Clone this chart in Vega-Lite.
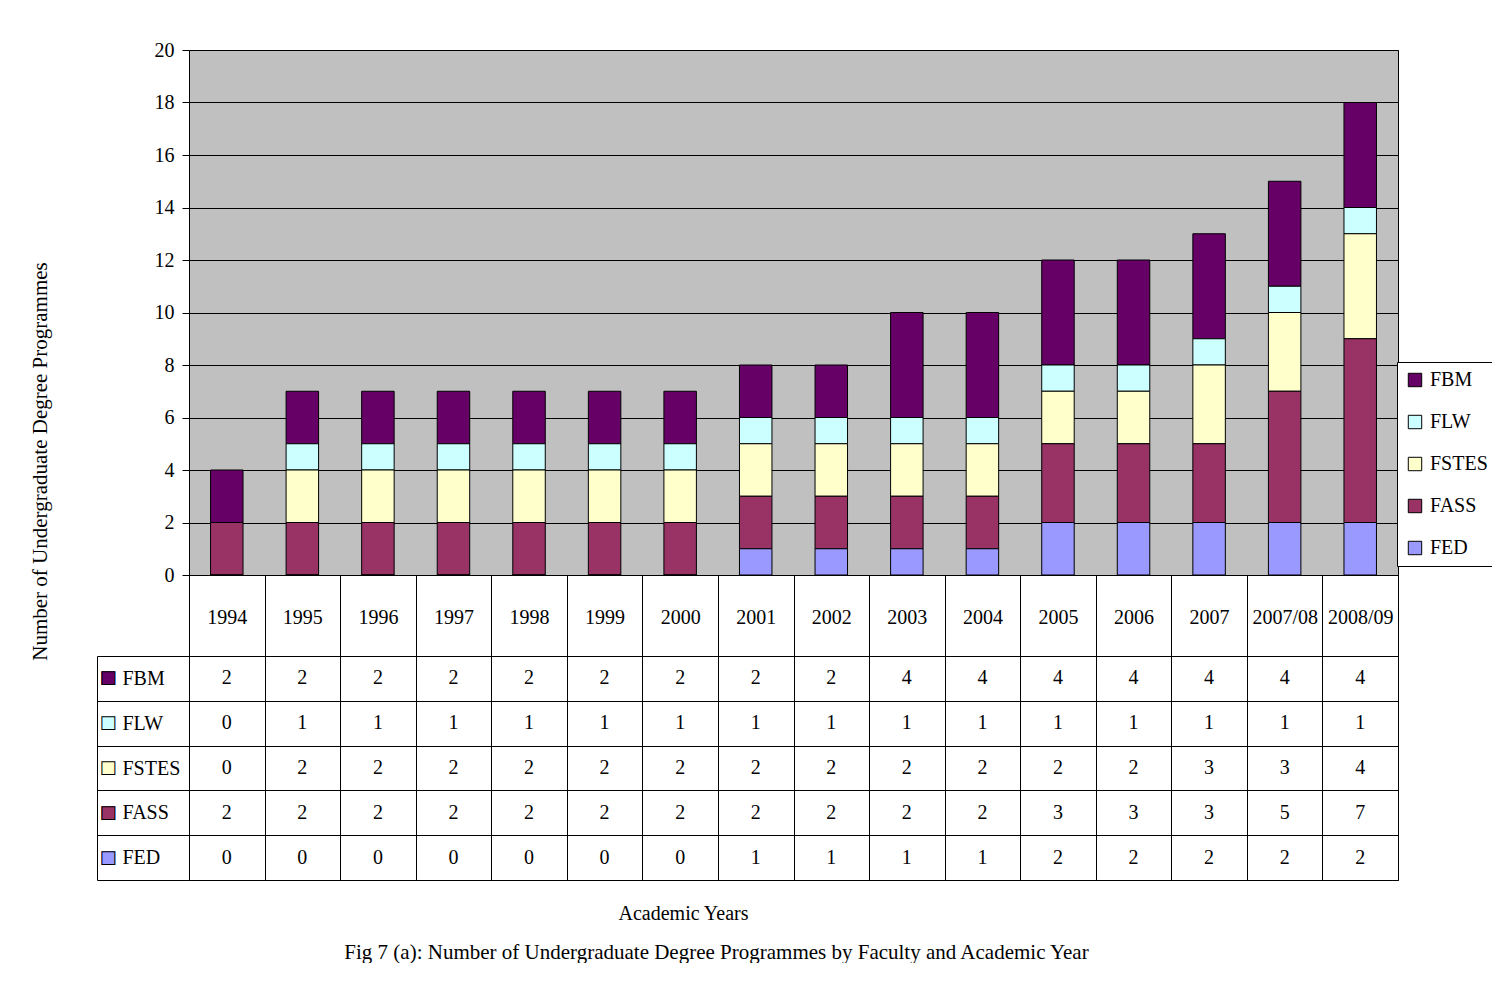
{
  "$schema": "https://vega.github.io/schema/vega-lite/v6.json",
  "padding": {"left": 28, "top": 39, "right": 0, "bottom": 0},
  "background": "white",
  "config": {
    "font": "Liberation Serif",
    "axis": {"labelFont": "Liberation Serif", "titleFont": "Liberation Serif", "labelColor": "black", "titleColor": "black", "labelFontSize": 20, "titleFontSize": 20, "titleFontWeight": "normal"},
    "title": {"font": "Liberation Serif", "fontWeight": "normal", "color": "black"}
  },
  "data": {"values": [
    {"year": "1994", "faculty": "FBM", "n": 2}, {"year": "1994", "faculty": "FLW", "n": 0}, {"year": "1994", "faculty": "FSTES", "n": 0}, {"year": "1994", "faculty": "FASS", "n": 2}, {"year": "1994", "faculty": "FED", "n": 0},
    {"year": "1995", "faculty": "FBM", "n": 2}, {"year": "1995", "faculty": "FLW", "n": 1}, {"year": "1995", "faculty": "FSTES", "n": 2}, {"year": "1995", "faculty": "FASS", "n": 2}, {"year": "1995", "faculty": "FED", "n": 0},
    {"year": "1996", "faculty": "FBM", "n": 2}, {"year": "1996", "faculty": "FLW", "n": 1}, {"year": "1996", "faculty": "FSTES", "n": 2}, {"year": "1996", "faculty": "FASS", "n": 2}, {"year": "1996", "faculty": "FED", "n": 0},
    {"year": "1997", "faculty": "FBM", "n": 2}, {"year": "1997", "faculty": "FLW", "n": 1}, {"year": "1997", "faculty": "FSTES", "n": 2}, {"year": "1997", "faculty": "FASS", "n": 2}, {"year": "1997", "faculty": "FED", "n": 0},
    {"year": "1998", "faculty": "FBM", "n": 2}, {"year": "1998", "faculty": "FLW", "n": 1}, {"year": "1998", "faculty": "FSTES", "n": 2}, {"year": "1998", "faculty": "FASS", "n": 2}, {"year": "1998", "faculty": "FED", "n": 0},
    {"year": "1999", "faculty": "FBM", "n": 2}, {"year": "1999", "faculty": "FLW", "n": 1}, {"year": "1999", "faculty": "FSTES", "n": 2}, {"year": "1999", "faculty": "FASS", "n": 2}, {"year": "1999", "faculty": "FED", "n": 0},
    {"year": "2000", "faculty": "FBM", "n": 2}, {"year": "2000", "faculty": "FLW", "n": 1}, {"year": "2000", "faculty": "FSTES", "n": 2}, {"year": "2000", "faculty": "FASS", "n": 2}, {"year": "2000", "faculty": "FED", "n": 0},
    {"year": "2001", "faculty": "FBM", "n": 2}, {"year": "2001", "faculty": "FLW", "n": 1}, {"year": "2001", "faculty": "FSTES", "n": 2}, {"year": "2001", "faculty": "FASS", "n": 2}, {"year": "2001", "faculty": "FED", "n": 1},
    {"year": "2002", "faculty": "FBM", "n": 2}, {"year": "2002", "faculty": "FLW", "n": 1}, {"year": "2002", "faculty": "FSTES", "n": 2}, {"year": "2002", "faculty": "FASS", "n": 2}, {"year": "2002", "faculty": "FED", "n": 1},
    {"year": "2003", "faculty": "FBM", "n": 4}, {"year": "2003", "faculty": "FLW", "n": 1}, {"year": "2003", "faculty": "FSTES", "n": 2}, {"year": "2003", "faculty": "FASS", "n": 2}, {"year": "2003", "faculty": "FED", "n": 1},
    {"year": "2004", "faculty": "FBM", "n": 4}, {"year": "2004", "faculty": "FLW", "n": 1}, {"year": "2004", "faculty": "FSTES", "n": 2}, {"year": "2004", "faculty": "FASS", "n": 2}, {"year": "2004", "faculty": "FED", "n": 1},
    {"year": "2005", "faculty": "FBM", "n": 4}, {"year": "2005", "faculty": "FLW", "n": 1}, {"year": "2005", "faculty": "FSTES", "n": 2}, {"year": "2005", "faculty": "FASS", "n": 3}, {"year": "2005", "faculty": "FED", "n": 2},
    {"year": "2006", "faculty": "FBM", "n": 4}, {"year": "2006", "faculty": "FLW", "n": 1}, {"year": "2006", "faculty": "FSTES", "n": 2}, {"year": "2006", "faculty": "FASS", "n": 3}, {"year": "2006", "faculty": "FED", "n": 2},
    {"year": "2007", "faculty": "FBM", "n": 4}, {"year": "2007", "faculty": "FLW", "n": 1}, {"year": "2007", "faculty": "FSTES", "n": 3}, {"year": "2007", "faculty": "FASS", "n": 3}, {"year": "2007", "faculty": "FED", "n": 2},
    {"year": "2007/08", "faculty": "FBM", "n": 4}, {"year": "2007/08", "faculty": "FLW", "n": 1}, {"year": "2007/08", "faculty": "FSTES", "n": 3}, {"year": "2007/08", "faculty": "FASS", "n": 5}, {"year": "2007/08", "faculty": "FED", "n": 2},
    {"year": "2008/09", "faculty": "FBM", "n": 4}, {"year": "2008/09", "faculty": "FLW", "n": 1}, {"year": "2008/09", "faculty": "FSTES", "n": 4}, {"year": "2008/09", "faculty": "FASS", "n": 7}, {"year": "2008/09", "faculty": "FED", "n": 2}
  ]},
  "spacing": 81,
  "bounds": "flush",
  "title": {"text": "Fig 7 (a): Number of Undergraduate Degree Programmes by Faculty and Academic Year", "orient": "bottom", "anchor": "middle", "fontSize": 21, "offset": 18, "dx": -46},
  "vconcat": [
    {
      "width": 1209,
      "height": 525,
      "view": {"fill": "#C0C0C0", "stroke": "black", "strokeWidth": 1},
      "transform": [
        {"calculate": "indexof(['FED', 'FASS', 'FSTES', 'FLW', 'FBM'], datum.faculty)", "as": "stackRank"}
      ],
      "mark": {"type": "bar", "stroke": "black", "strokeWidth": 1, "width": {"band": 0.43}},
      "encoding": {
        "x": {"field": "year", "type": "nominal", "sort": null,
          "scale": {"paddingInner": 0, "paddingOuter": 0},
          "axis": {"title": null, "labelAngle": 0, "tickBand": "extent", "tickSize": 81, "tickColor": "black", "domainColor": "black", "labelBaseline": "middle", "labelAlign": "center", "labelPadding": -39}},
        "y": {"field": "n", "type": "quantitative", "stack": "zero",
          "scale": {"domain": [0, 20]},
          "axis": {"values": [0, 2, 4, 6, 8, 10, 12, 14, 16, 18, 20], "title": "Number of Undergraduate Degree Programmes", "titleFontSize": 21, "titlePadding": 104, "titleY": 411, "grid": true, "gridColor": "black", "gridOpacity": 1, "tickColor": "black", "domainColor": "black", "tickSize": 7, "labelPadding": 8}},
        "order": {"field": "stackRank", "type": "quantitative", "sort": "ascending"},
        "color": {"field": "faculty", "type": "nominal",
          "scale": {"domain": ["FBM", "FLW", "FSTES", "FASS", "FED"], "range": ["#660066", "#CCFFFF", "#FFFFCC", "#993366", "#9999FF"]},
          "legend": {"orient": "none", "legendX": 1208, "legendY": 312, "title": null, "symbolType": "square", "symbolSize": 180, "symbolStrokeColor": "black", "symbolStrokeWidth": 1, "symbolOpacity": 1, "labelFontSize": 20, "labelFont": "Liberation Serif", "labelColor": "black", "strokeColor": "black", "fillColor": "white", "padding": 8, "rowPadding": 22, "labelOffset": 5}}
      }
    },
    {
      "width": 1209,
      "height": 224,
      "view": {"fill": "white", "stroke": "black", "strokeWidth": 1},
      "layer": [
        {
          "mark": {"type": "text", "fontSize": 20, "font": "Liberation Serif", "color": "black"},
          "encoding": {
            "x": {"field": "year", "type": "nominal", "sort": null,
              "axis": {"orient": "bottom", "labels": false, "ticks": false, "domain": false, "grid": true, "gridColor": "black", "gridOpacity": 1, "tickBand": "extent", "title": "Academic Years", "titlePadding": 23, "titleX": 494}},
            "y": {"field": "faculty", "type": "nominal", "sort": ["FBM", "FLW", "FSTES", "FASS", "FED"],
              "axis": {"title": null, "tickBand": "extent", "tickSize": 92, "tickColor": "black", "grid": true, "gridColor": "black", "gridOpacity": 1, "domain": false, "labelAlign": "left", "labelPadding": -25, "labelFontSize": 20}},
            "text": {"field": "n", "type": "quantitative"}
          }
        },
        {
          "mark": {"type": "text", "opacity": 0},
          "encoding": {
            "y": {"field": "faculty", "type": "nominal", "sort": ["FBM", "FLW", "FSTES", "FASS", "FED"],
              "axis": {"orient": "left", "title": null, "offset": 92, "ticks": false, "tickSize": 0, "grid": false, "domain": true, "domainColor": "black", "labelExpr": "'■'", "labelFont": "DejaVu Sans", "labelFontSize": 18, "labelAlign": "left", "labelPadding": -2,
                "labelColor": {"condition": [
                  {"test": "datum.value === 'FBM'", "value": "#660066"},
                  {"test": "datum.value === 'FLW'", "value": "#CCFFFF"},
                  {"test": "datum.value === 'FSTES'", "value": "#FFFFCC"},
                  {"test": "datum.value === 'FASS'", "value": "#993366"}
                ], "value": "#9999FF"}}},
            "text": {"value": ""}
          }
        },
        {
          "mark": {"type": "text", "opacity": 0},
          "encoding": {
            "y": {"field": "faculty", "type": "nominal", "sort": ["FBM", "FLW", "FSTES", "FASS", "FED"],
              "axis": {"orient": "left", "title": null, "offset": 92, "ticks": false, "tickSize": 0, "grid": false, "domain": false, "labelExpr": "'□'", "labelFont": "DejaVu Sans", "labelFontSize": 18, "labelAlign": "left", "labelPadding": -2, "labelColor": "black"}},
            "text": {"value": ""}
          }
        }
      ],
      "resolve": {"axis": {"y": "independent"}}
    }
  ]
}
